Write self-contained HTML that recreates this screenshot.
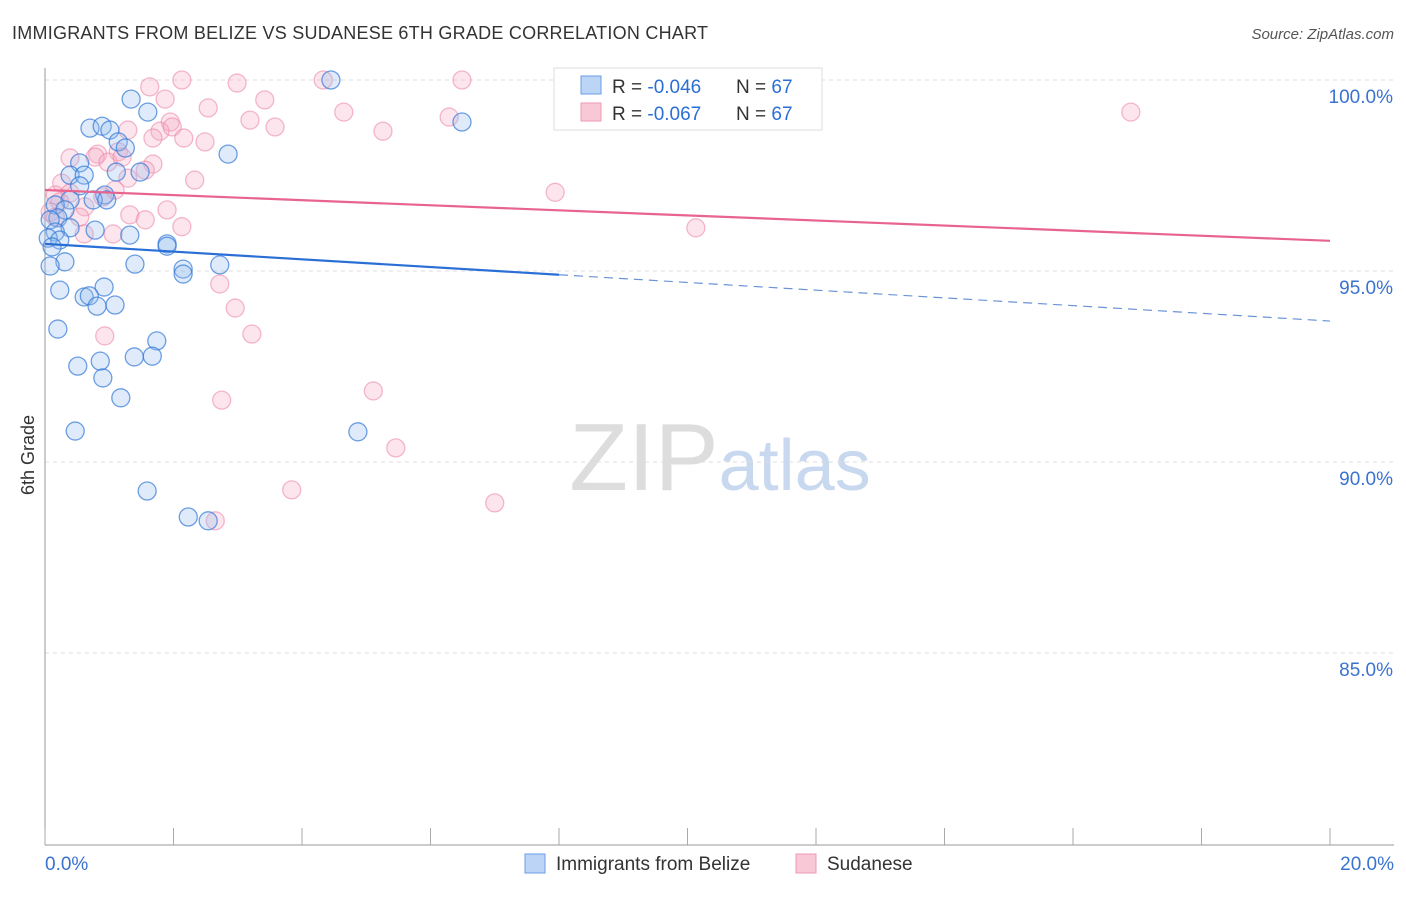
<!DOCTYPE html>
<html><head><meta charset="utf-8"><style>
body{margin:0;background:#fff;font-family:"Liberation Sans",sans-serif;}
svg text{font-family:"Liberation Sans",sans-serif;}
</style></head><body>
<svg id="c" width="1406" height="892">
<text x="12" y="39" font-size="18" fill="#333" textLength="696">IMMIGRANTS FROM BELIZE VS SUDANESE 6TH GRADE CORRELATION CHART</text>
<text x="1394" y="39" font-size="15" fill="#555" text-anchor="end" font-style="italic">Source: ZipAtlas.com</text>
<text x="34" y="455" font-size="18" fill="#333" transform="rotate(-90 34 455)" text-anchor="middle">6th Grade</text>
<text x="720" y="490" font-size="96" fill="#ddd" text-anchor="middle" font-family="Liberation Serif">ZIP<tspan fill="#c8d8ee" font-family="Liberation Sans" font-size="72">atlas</tspan></text>
<g id="grid"></g><g id="axes"></g><g id="pts"></g><g id="lines"></g>
<g>
<rect x="554" y="68" width="268" height="62" fill="#fff" stroke="#ddd"/>
<rect x="581" y="76" width="20" height="18" fill="#bcd4f5" stroke="#6a9ee6"/>
<text x="612" y="93" font-size="19" fill="#333">R = <tspan fill="#2a6fd6">-0.046</tspan></text>
<text x="736" y="93" font-size="19" fill="#333">N = <tspan fill="#2a6fd6">67</tspan></text>
<rect x="581" y="103" width="20" height="18" fill="#f9c8d6" stroke="#ee9ab4"/>
<text x="612" y="120" font-size="19" fill="#333">R = <tspan fill="#2a6fd6">-0.067</tspan></text>
<text x="736" y="120" font-size="19" fill="#333">N = <tspan fill="#2a6fd6">67</tspan></text>
</g>
<g>
<rect x="525" y="854" width="20" height="19" fill="#bcd4f5" stroke="#6a9ee6"/>
<text x="556" y="870" font-size="19" fill="#333">Immigrants from Belize</text>
<rect x="796" y="854" width="20" height="19" fill="#f9c8d6" stroke="#ee9ab4"/>
<text x="827" y="870" font-size="19" fill="#333">Sudanese</text>
</g>
</svg>
<script>
const yTicks=[100,95,90,85];
const yTickLabels=["100.0%","95.0%","90.0%","85.0%"];
const xTickVals=[0,2,4,6,8,10,12,14,16,18,20];
const blueX=[4.45,6.49,1.34,1.6,0.7,0.89,1.01,1.14,2.85,1.25,0.54,1.11,0.39,0.61,1.48,0.54,0.93,0.39,0.75,0.96,0.16,0.31,0.2,0.08,0.39,0.78,1.32,0.16,0.05,0.23,0.11,1.9,1.9,0.31,0.08,1.4,2.15,2.15,2.72,0.23,0.92,0.61,0.69,1.09,0.81,0.2,1.74,0.51,0.86,1.39,1.67,0.9,1.18,0.47,4.87,1.59,2.23,2.54];
const blueY=[100,98.9,99.5,99.16,98.74,98.79,98.69,98.38,98.06,98.22,97.83,97.59,97.51,97.51,97.59,97.23,96.99,96.86,96.86,96.86,96.73,96.6,96.39,96.34,96.13,96.07,95.94,96.02,95.86,95.81,95.63,95.71,95.65,95.24,95.13,95.18,95.05,94.92,95.16,94.5,94.58,94.32,94.35,94.11,94.08,93.48,93.17,92.51,92.64,92.75,92.77,92.2,91.68,90.81,90.79,89.24,88.56,88.46];
const pinkX=[2.13,2.99,4.33,6.49,1.63,1.87,2.54,3.42,4.65,3.19,3.58,5.26,6.29,16.9,1.95,1.79,1.98,1.29,1.68,2.16,2.49,0.82,1.14,0.78,0.39,0.98,1.2,1.68,1.56,0.26,1.29,2.33,1.09,0.39,0.16,0.9,0.62,7.94,0.23,0.08,0.54,1.32,1.56,1.9,2.13,1.06,0.61,0.16,10.13,2.72,2.96,3.22,0.93,2.75,5.11,5.46,3.84,7.0,2.65];
const pinkY=[100,99.92,100,100,99.82,99.5,99.27,99.48,99.16,98.95,98.77,98.66,99.03,99.16,98.9,98.66,98.77,98.69,98.48,98.48,98.38,98.06,98.12,97.98,97.96,97.85,97.98,97.8,97.64,97.3,97.43,97.38,97.12,97.04,96.99,96.94,96.68,97.06,96.81,96.54,96.41,96.47,96.34,96.6,96.16,95.97,95.97,96.41,96.13,94.66,94.03,93.35,93.3,91.62,91.86,90.37,89.27,88.93,88.46];
const blueFit=[95.71,93.69];
const pinkFit=[97.12,95.79];
const X=v=>45+v*64.25, Y=v=>80+(100-v)*38.2;
const NS="http://www.w3.org/2000/svg";
function mk(t,a,p){const e=document.createElementNS(NS,t);for(const k in a)e.setAttribute(k,a[k]);p.appendChild(e);return e;}
const grid=document.getElementById('grid'),axes=document.getElementById('axes'),pts=document.getElementById('pts'),lines=document.getElementById('lines');
yTicks.forEach((t,i)=>{
 const l=mk('line',{x1:45,x2:1394,y1:Y(t),y2:Y(t),stroke:'#ddd','stroke-dasharray':'4 4'},grid);
 
 
 const tx=mk('text',{x:1393,y:Y(t)+23,'font-size':19,fill:'#3a72d0','text-anchor':'end'},axes);
 tx.textContent=yTickLabels[i];
 
 
});
mk('line',{x1:45,x2:45,y1:68,y2:845,stroke:'#999'},axes);
mk('line',{x1:45,x2:1394,y1:845,y2:845,stroke:'#999'},axes);
xTickVals.forEach(v=>{
 const t=mk('line',{x1:X(v),x2:X(v),y1:828,y2:845,stroke:'#aaa'},axes);
 
 
});
const xl=mk('text',{x:45,y:870,'font-size':19,fill:'#3a72d0'},axes);xl.textContent='0.0%';


const xr=mk('text',{x:1394,y:870,'font-size':19,fill:'#3a72d0','text-anchor':'end'},axes);xr.textContent='20.0%';


pinkX.forEach((x,i)=>{
 const c=mk('circle',{cx:X(x),cy:Y(pinkY[i]),r:9,fill:'rgba(246,170,195,0.3)',stroke:'rgba(235,130,165,0.55)','stroke-width':1.3},pts);
 
 
});
blueX.forEach((x,i)=>{
 const c=mk('circle',{cx:X(x),cy:Y(blueY[i]),r:9,fill:'rgba(150,190,240,0.3)',stroke:'rgba(50,120,215,0.7)','stroke-width':1.3},pts);
 
 
});
const pf=mk('line',{x1:X(0),y1:Y(pinkFit[0]),x2:X(20),y2:Y(pinkFit[1]),stroke:'#e8648e','stroke-width':2.2},lines);


const bm=blueFit[0]+(blueFit[1]-blueFit[0])*0.4;
const bf=mk('line',{x1:X(0),y1:Y(blueFit[0]),x2:X(8),y2:Y(bm),stroke:'#2a6fd6','stroke-width':2.2},lines);


const bd=mk('line',{x1:X(8),y1:Y(bm),x2:X(20),y2:Y(blueFit[1]),stroke:'#6a94d6','stroke-width':1.2,'stroke-dasharray':'9 6'},lines);


</script>
</body></html>
